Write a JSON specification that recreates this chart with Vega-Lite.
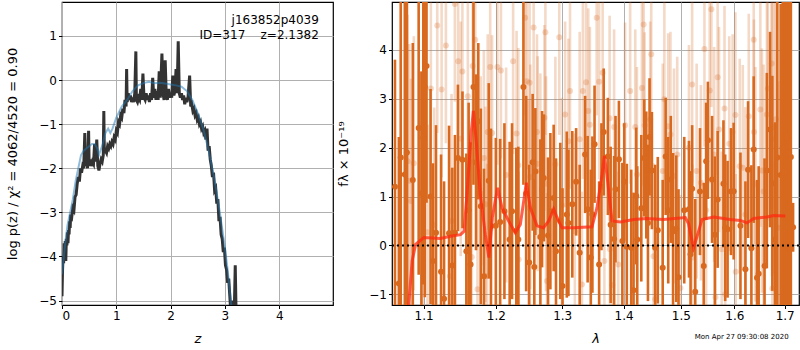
{
"$schema": "https://vega.github.io/schema/vega-lite/v6.json",
"padding": {"left": 6, "top": 1, "right": 1, "bottom": 0},
"config": {
  "font": "DejaVu Sans",
  "view": {"stroke": "black", "strokeWidth": 1.2},
  "axis": {"grid": true, "gridColor": "#b0b0b0", "gridWidth": 1, "domain": false, "tickColor": "black", "tickSize": 3.5, "labelFontSize": 12, "labelColor": "black", "labelPadding": 2, "titleFontSize": 13, "titleFontWeight": "normal", "titleColor": "black"},
  "axisX": {"titlePadding": 11}
},
"title": {"text": "Mon Apr 27 09:30:08 2020", "orient": "bottom", "anchor": "end", "fontSize": 7, "fontWeight": "normal", "offset": -13, "dx": -12, "color": "black"},
"spacing": 3,
"datasets": {
"pz": [
{"z":0.00,"lp":-4.9},{"z":0.01,"lp":-4.3},{"z":0.02,"lp":-4.0},{"z":0.03,"lp":-4.15},{"z":0.04,"lp":-3.7},{"z":0.05,"lp":-3.95},{"z":0.06,"lp":-3.65},{"z":0.07,"lp":-4.1},{"z":0.08,"lp":-3.6},{"z":0.09,"lp":-3.75},{"z":0.10,"lp":-3.45},{"z":0.11,"lp":-3.7},{"z":0.12,"lp":-3.4},{"z":0.13,"lp":-3.5},{"z":0.14,"lp":-3.2},{"z":0.15,"lp":-3.35},{"z":0.16,"lp":-3.05},{"z":0.18,"lp":-3.1},{"z":0.20,"lp":-2.9},{"z":0.22,"lp":-2.95},{"z":0.24,"lp":-2.65},{"z":0.26,"lp":-2.6},{"z":0.28,"lp":-2.35},{"z":0.30,"lp":-2.2},{"z":0.32,"lp":-2.3},{"z":0.34,"lp":-2.0},{"z":0.36,"lp":-2.1},{"z":0.38,"lp":-1.95},{"z":0.40,"lp":-2.0},{"z":0.42,"lp":-1.2},{"z":0.43,"lp":-1.95},{"z":0.45,"lp":-1.85},{"z":0.47,"lp":-2.0},{"z":0.49,"lp":-1.15},{"z":0.50,"lp":-1.95},{"z":0.52,"lp":-1.8},{"z":0.54,"lp":-1.95},{"z":0.56,"lp":-1.85},{"z":0.58,"lp":-1.9},{"z":0.60,"lp":-1.45},{"z":0.62,"lp":-1.85},{"z":0.64,"lp":-1.35},{"z":0.66,"lp":-1.95},{"z":0.68,"lp":-2.05},{"z":0.70,"lp":-1.9},{"z":0.72,"lp":-1.8},{"z":0.74,"lp":-1.85},{"z":0.76,"lp":-1.7},{"z":0.77,"lp":-0.7},{"z":0.78,"lp":-1.65},{"z":0.80,"lp":-1.6},{"z":0.82,"lp":-1.65},{"z":0.84,"lp":-1.5},{"z":0.86,"lp":-1.55},{"z":0.88,"lp":-1.45},{"z":0.90,"lp":-1.5},{"z":0.92,"lp":-1.4},{"z":0.94,"lp":-1.45},{"z":0.96,"lp":-1.3},{"z":0.98,"lp":-1.35},{"z":1.00,"lp":-1.15},{"z":1.02,"lp":-1.2},{"z":1.04,"lp":-0.95},{"z":1.06,"lp":-1.0},{"z":1.08,"lp":-0.8},{"z":1.10,"lp":-0.85},{"z":1.12,"lp":-0.65},{"z":1.14,"lp":-0.75},{"z":1.16,"lp":-0.45},{"z":1.18,"lp":-0.6},{"z":1.19,"lp":0.25},{"z":1.20,"lp":-0.5},{"z":1.22,"lp":-0.3},{"z":1.24,"lp":-0.45},{"z":1.26,"lp":-0.35},{"z":1.28,"lp":-0.5},{"z":1.30,"lp":-0.4},{"z":1.32,"lp":-0.5},{"z":1.34,"lp":-0.3},{"z":1.36,"lp":0.65},{"z":1.37,"lp":-0.45},{"z":1.39,"lp":-0.5},{"z":1.41,"lp":-0.4},{"z":1.43,"lp":-0.45},{"z":1.45,"lp":-0.2},{"z":1.47,"lp":-0.45},{"z":1.49,"lp":0.15},{"z":1.51,"lp":-0.4},{"z":1.53,"lp":-0.45},{"z":1.55,"lp":-0.3},{"z":1.57,"lp":-0.45},{"z":1.59,"lp":-0.35},{"z":1.61,"lp":-0.5},{"z":1.63,"lp":-0.3},{"z":1.65,"lp":-0.45},{"z":1.67,"lp":0.05},{"z":1.69,"lp":-0.4},{"z":1.71,"lp":-0.2},{"z":1.73,"lp":-0.45},{"z":1.75,"lp":-0.25},{"z":1.77,"lp":-0.45},{"z":1.79,"lp":0.2},{"z":1.81,"lp":-0.4},{"z":1.84,"lp":0.6},{"z":1.86,"lp":-0.3},{"z":1.88,"lp":-0.45},{"z":1.90,"lp":0.45},{"z":1.92,"lp":-0.35},{"z":1.94,"lp":-0.45},{"z":1.96,"lp":-0.2},{"z":1.98,"lp":-0.4},{"z":2.00,"lp":-0.3},{"z":2.02,"lp":-0.4},{"z":2.04,"lp":0.1},{"z":2.06,"lp":-0.35},{"z":2.08,"lp":-0.25},{"z":2.10,"lp":0.25},{"z":2.12,"lp":-0.3},{"z":2.14,"lp":0.88},{"z":2.16,"lp":-0.3},{"z":2.18,"lp":-0.4},{"z":2.20,"lp":-0.3},{"z":2.22,"lp":-0.45},{"z":2.24,"lp":-0.35},{"z":2.26,"lp":-0.55},{"z":2.28,"lp":-0.4},{"z":2.30,"lp":-0.5},{"z":2.32,"lp":-0.4},{"z":2.35,"lp":0.1},{"z":2.37,"lp":-0.6},{"z":2.39,"lp":-0.55},{"z":2.41,"lp":-0.7},{"z":2.43,"lp":-0.65},{"z":2.45,"lp":-0.8},{"z":2.47,"lp":-0.75},{"z":2.49,"lp":-0.9},{"z":2.51,"lp":-0.85},{"z":2.53,"lp":-1.0},{"z":2.55,"lp":-0.95},{"z":2.57,"lp":-1.1},{"z":2.59,"lp":-1.05},{"z":2.61,"lp":-1.2},{"z":2.63,"lp":-1.15},{"z":2.65,"lp":-1.35},{"z":2.67,"lp":-1.1},{"z":2.69,"lp":-1.6},{"z":2.71,"lp":-1.5},{"z":2.73,"lp":-1.8},{"z":2.75,"lp":-1.95},{"z":2.77,"lp":-2.2},{"z":2.79,"lp":-2.1},{"z":2.81,"lp":-2.5},{"z":2.83,"lp":-2.45},{"z":2.85,"lp":-2.8},{"z":2.87,"lp":-2.7},{"z":2.89,"lp":-3.2},{"z":2.91,"lp":-3.1},{"z":2.93,"lp":-3.5},{"z":2.95,"lp":-3.6},{"z":2.97,"lp":-3.9},{"z":2.99,"lp":-3.8},{"z":3.01,"lp":-4.2},{"z":3.03,"lp":-4.3},{"z":3.05,"lp":-4.6},{"z":3.07,"lp":-4.5},{"z":3.09,"lp":-4.9},{"z":3.11,"lp":-5.3},{"z":3.13,"lp":-5.0},{"z":3.15,"lp":-5.6},{"z":3.17,"lp":-5.4},{"z":3.19,"lp":-4.2},{"z":3.21,"lp":-5.6},{"z":3.23,"lp":-6.0}
],
"pzs": [
{"z":0.00,"lp":-4.4},{"z":0.05,"lp":-3.8},{"z":0.10,"lp":-3.3},{"z":0.15,"lp":-3.0},{"z":0.20,"lp":-2.7},{"z":0.25,"lp":-2.3},{"z":0.30,"lp":-2.0},{"z":0.35,"lp":-1.7},{"z":0.40,"lp":-1.6},{"z":0.45,"lp":-1.55},{"z":0.50,"lp":-1.5},{"z":0.55,"lp":-1.45},{"z":0.60,"lp":-1.45},{"z":0.65,"lp":-1.55},{"z":0.68,"lp":-1.7},{"z":0.75,"lp":-1.45},{"z":0.80,"lp":-1.2},{"z":0.85,"lp":-1.1},{"z":0.89,"lp":-1.2},{"z":0.93,"lp":-1.1},{"z":1.00,"lp":-0.85},{"z":1.10,"lp":-0.6},{"z":1.20,"lp":-0.45},{"z":1.30,"lp":-0.25},{"z":1.40,"lp":-0.12},{"z":1.50,"lp":-0.07},{"z":1.60,"lp":-0.04},{"z":1.70,"lp":-0.07},{"z":1.80,"lp":-0.06},{"z":1.90,"lp":-0.08},{"z":2.00,"lp":-0.1},{"z":2.10,"lp":-0.12},{"z":2.20,"lp":-0.15},{"z":2.30,"lp":-0.25},{"z":2.40,"lp":-0.45},{"z":2.50,"lp":-0.75},{"z":2.60,"lp":-1.1},{"z":2.70,"lp":-1.6},{"z":2.80,"lp":-2.2},{"z":2.90,"lp":-2.95},{"z":3.00,"lp":-3.8},{"z":3.05,"lp":-4.3},{"z":3.10,"lp":-4.9},{"z":3.15,"lp":-5.5}
],
"dark": [
{"l":1.0626,"f":1.2,"e":2.6},{"l":1.0676,"f":-0.78,"e":3.0},{"l":1.0700,"f":1.8,"e":4.0},{"l":1.0753,"f":1.45,"e":3.6},{"l":1.0780,"f":1.9,"e":3.8},{"l":1.0857,"f":1.34,"e":2.8},{"l":1.0934,"f":2.4,"e":3.0},{"l":1.0970,"f":1.06,"e":2.5},{"l":1.0995,"f":2.2,"e":3.0},{"l":1.1015,"f":3.24,"e":4.3},{"l":1.1038,"f":3.67,"e":2.8},{"l":1.1092,"f":1.0,"e":2.2},{"l":1.1124,"f":-0.32,"e":2.0},{"l":1.1165,"f":0.26,"e":2.2},{"l":1.1233,"f":-0.54,"e":2.4},{"l":1.1274,"f":-1.09,"e":2.4},{"l":1.1342,"f":0.25,"e":2.2},{"l":1.1387,"f":-0.41,"e":2.0},{"l":1.1423,"f":0.26,"e":2.0},{"l":1.1464,"f":1.79,"e":1.5},{"l":1.1527,"f":1.75,"e":1.4},{"l":1.1581,"f":-0.12,"e":2.0},{"l":1.1613,"f":0.72,"e":2.2},{"l":1.1640,"f":-0.39,"e":2.5},{"l":1.1681,"f":3.24,"e":2.0},{"l":1.1717,"f":1.70,"e":1.8},{"l":1.1749,"f":2.54,"e":1.6},{"l":1.1785,"f":0.80,"e":2.0},{"l":1.1830,"f":-0.63,"e":2.2},{"l":1.1898,"f":1.32,"e":2.0},{"l":1.1930,"f":0.39,"e":2.0},
{"l":1.2000,"f":0.4,"e":1.8},{"l":1.2063,"f":0.48,"e":1.7},{"l":1.2125,"f":0.70,"e":1.8},{"l":1.2202,"f":0.12,"e":2.0},{"l":1.2237,"f":0.70,"e":1.8},{"l":1.2300,"f":0.3,"e":1.7},{"l":1.2330,"f":0.12,"e":1.9},{"l":1.2406,"f":3.24,"e":2.0},{"l":1.2447,"f":1.06,"e":2.0},{"l":1.2493,"f":-0.35,"e":2.0},{"l":1.2545,"f":1.70,"e":1.4},{"l":1.2570,"f":-0.44,"e":1.8},{"l":1.2586,"f":1.51,"e":1.3},{"l":1.2662,"f":0.17,"e":2.0},{"l":1.2688,"f":1.15,"e":1.6},{"l":1.2714,"f":1.38,"e":1.3},{"l":1.2780,"f":0.2,"e":1.6},{"l":1.2816,"f":0.70,"e":1.6},{"l":1.2867,"f":0.97,"e":1.5},{"l":1.2903,"f":-0.12,"e":1.9},{"l":1.2970,"f":0.5,"e":1.6},{"l":1.3005,"f":-0.83,"e":2.0},{"l":1.3072,"f":0.63,"e":1.7},{"l":1.3098,"f":0.46,"e":1.5},{"l":1.3159,"f":0.84,"e":1.5},{"l":1.3220,"f":1.3,"e":1.1},{"l":1.3277,"f":-0.15,"e":1.8},{"l":1.3364,"f":1.86,"e":1.2},{"l":1.3405,"f":0.74,"e":1.5},{"l":1.3456,"f":-0.25,"e":1.8},{"l":1.3482,"f":0.63,"e":1.6},{"l":1.3517,"f":2.07,"e":1.2},
{"l":1.3592,"f":-0.39,"e":1.7},{"l":1.3630,"f":1.2,"e":1.3},{"l":1.3667,"f":2.32,"e":1.3},{"l":1.3736,"f":1.82,"e":1.2},{"l":1.3782,"f":0.42,"e":1.6},{"l":1.3840,"f":0.13,"e":1.7},{"l":1.3863,"f":1.15,"e":1.5},{"l":1.3920,"f":1.76,"e":1.2},{"l":1.3978,"f":0.09,"e":1.6},{"l":1.4010,"f":1.3,"e":1.2},{"l":1.4053,"f":-0.03,"e":1.7},{"l":1.4128,"f":-0.05,"e":1.6},{"l":1.4168,"f":-0.92,"e":2.0},{"l":1.4214,"f":1.01,"e":1.4},{"l":1.4231,"f":0.12,"e":1.5},{"l":1.4301,"f":0.76,"e":1.5},{"l":1.4352,"f":1.79,"e":1.2},{"l":1.4387,"f":1.44,"e":1.3},{"l":1.4416,"f":0.46,"e":1.6},{"l":1.4444,"f":2.22,"e":1.2},{"l":1.4485,"f":1.53,"e":1.2},{"l":1.4542,"f":-0.05,"e":1.7},{"l":1.4588,"f":0.31,"e":1.5},{"l":1.4675,"f":-0.46,"e":1.8},{"l":1.4727,"f":1.82,"e":1.2},{"l":1.4773,"f":0.72,"e":1.5},{"l":1.4819,"f":1.35,"e":1.3},{"l":1.4859,"f":0.29,"e":1.6},{"l":1.4917,"f":0.34,"e":1.5},{"l":1.4957,"f":-0.65,"e":1.8},{"l":1.5061,"f":0.72,"e":1.5},{"l":1.5147,"f":0.74,"e":1.4},{"l":1.5176,"f":-0.18,"e":1.7},{"l":1.5205,"f":1.16,"e":1.3},
{"l":1.5262,"f":-0.95,"e":1.9},{"l":1.5350,"f":1.1,"e":1.3},{"l":1.5419,"f":-0.42,"e":1.7},{"l":1.5464,"f":1.72,"e":1.2},{"l":1.5497,"f":2.15,"e":1.2},{"l":1.5575,"f":1.35,"e":1.3},{"l":1.5627,"f":0.22,"e":1.6},{"l":1.5680,"f":0.94,"e":1.4},{"l":1.5790,"f":1.26,"e":1.3},{"l":1.5823,"f":0.36,"e":1.5},{"l":1.5869,"f":0.33,"e":1.4},{"l":1.5934,"f":1.10,"e":1.3},{"l":1.5986,"f":1.11,"e":1.4},{"l":1.6117,"f":0.40,"e":1.5},{"l":1.6214,"f":-0.49,"e":1.8},{"l":1.6266,"f":1.55,"e":1.4},{"l":1.6331,"f":-0.06,"e":1.7},{"l":1.6377,"f":1.96,"e":1.5},{"l":1.6442,"f":-0.66,"e":2.0},{"l":1.6475,"f":-0.58,"e":2.2},{"l":1.6592,"f":-0.42,"e":2.2},{"l":1.6638,"f":1.53,"e":2.0},{"l":1.6703,"f":2.37,"e":2.0},{"l":1.6749,"f":1.27,"e":2.2},{"l":1.6801,"f":0.12,"e":2.4},{"l":1.6850,"f":1.8,"e":3.5},{"l":1.6918,"f":1.44,"e":3.5},{"l":1.6960,"f":2.0,"e":4.0},{"l":1.7000,"f":1.5,"e":3.8},{"l":1.7050,"f":2.2,"e":4.5},{"l":1.7090,"f":1.9,"e":4.0},{"l":1.7127,"f":1.81,"e":3.5},{"l":1.7173,"f":0.37,"e":0.5}
],
"light": [
{"l":1.0789,"f":1.72,"e":3.0},{"l":1.0811,"f":1.32,"e":2.8},{"l":1.0834,"f":0.91,"e":2.5},{"l":1.0870,"f":1.68,"e":2.6},{"l":1.0992,"f":-0.65,"e":2.4},{"l":1.1051,"f":0.27,"e":2.2},{"l":1.1096,"f":3.21,"e":2.0},{"l":1.1141,"f":0.42,"e":2.4},{"l":1.1182,"f":4.5,"e":2.2},{"l":1.1241,"f":3.19,"e":1.8},{"l":1.1299,"f":4.09,"e":2.0},{"l":1.1354,"f":-0.63,"e":2.2},{"l":1.1376,"f":0.50,"e":2.6},{"l":1.1422,"f":4.94,"e":2.0},{"l":1.1467,"f":3.77,"e":2.1},{"l":1.1503,"f":2.18,"e":2.4},{"l":1.1526,"f":3.56,"e":1.8},{"l":1.1602,"f":3.05,"e":2.2},{"l":1.1657,"f":-0.24,"e":2.0},{"l":1.1670,"f":3.67,"e":2.0},{"l":1.1706,"f":4.21,"e":1.9},{"l":1.1738,"f":-0.9,"e":2.2},{"l":1.1783,"f":1.06,"e":2.4},{"l":1.1828,"f":1.79,"e":2.2},{"l":1.1851,"f":0.84,"e":2.0},{"l":1.1874,"f":-0.63,"e":2.3},{"l":1.1883,"f":2.32,"e":2.0},{"l":1.1919,"f":3.65,"e":2.2},
{"l":1.1946,"f":2.30,"e":2.0},{"l":1.2022,"f":3.65,"e":2.0},{"l":1.2074,"f":3.58,"e":1.8},{"l":1.2150,"f":1.44,"e":2.2},{"l":1.2253,"f":3.77,"e":1.9},{"l":1.2304,"f":2.29,"e":2.1},{"l":1.2330,"f":1.64,"e":2.4},{"l":1.2335,"f":-0.29,"e":1.8},{"l":1.2432,"f":4.66,"e":2.0},{"l":1.2458,"f":3.36,"e":1.8},{"l":1.2483,"f":0.77,"e":2.2},{"l":1.2499,"f":3.33,"e":2.0},{"l":1.2509,"f":1.40,"e":2.3},{"l":1.2560,"f":4.46,"e":2.0},{"l":1.2611,"f":2.32,"e":2.0},{"l":1.2621,"f":1.67,"e":2.2},{"l":1.2662,"f":1.52,"e":2.0},{"l":1.2724,"f":2.61,"e":1.9},{"l":1.2739,"f":4.36,"e":2.1},{"l":1.2749,"f":1.26,"e":2.2},{"l":1.2765,"f":-0.73,"e":1.8},{"l":1.2893,"f":1.66,"e":2.2},{"l":1.2954,"f":4.26,"e":2.0},{"l":1.2995,"f":0.82,"e":2.2},{"l":1.3046,"f":2.68,"e":1.9},{"l":1.3098,"f":2.13,"e":2.1},{"l":1.3123,"f":3.16,"e":2.0},{"l":1.3200,"f":0.29,"e":2.0},{"l":1.3277,"f":2.17,"e":2.2},{"l":1.3313,"f":-0.80,"e":1.9},{"l":1.3328,"f":3.16,"e":1.8},{"l":1.3379,"f":3.34,"e":2.0},{"l":1.3415,"f":2.75,"e":2.1},{"l":1.3441,"f":2.47,"e":2.0},
{"l":1.3552,"f":4.66,"e":2.0},{"l":1.3592,"f":3.35,"e":2.0},{"l":1.3650,"f":3.53,"e":1.9},{"l":1.3678,"f":-0.32,"e":1.9},{"l":1.3765,"f":2.60,"e":2.1},{"l":1.3770,"f":-0.08,"e":1.8},{"l":1.3811,"f":-0.81,"e":2.0},{"l":1.3840,"f":2.42,"e":2.0},{"l":1.3909,"f":-0.39,"e":1.9},{"l":1.4024,"f":2.46,"e":2.1},{"l":1.4110,"f":3.16,"e":1.9},{"l":1.4197,"f":2.42,"e":2.0},{"l":1.4226,"f":1.45,"e":2.2},{"l":1.4312,"f":3.22,"e":2.0},{"l":1.4341,"f":4.52,"e":2.0},{"l":1.4358,"f":2.46,"e":1.9},{"l":1.4456,"f":2.58,"e":2.0},{"l":1.4473,"f":3.91,"e":2.1},{"l":1.4514,"f":-0.22,"e":1.9},{"l":1.4542,"f":-1.10,"e":2.0},{"l":1.4675,"f":1.52,"e":2.2},{"l":1.4704,"f":2.99,"e":2.0},{"l":1.4773,"f":2.44,"e":1.9},{"l":1.4813,"f":2.27,"e":2.1},{"l":1.4876,"f":1.42,"e":2.2},{"l":1.4934,"f":1.86,"e":2.0},{"l":1.4992,"f":-0.87,"e":1.9},{"l":1.5147,"f":2.00,"e":2.1},{"l":1.5205,"f":3.29,"e":2.0},{"l":1.5210,"f":-0.25,"e":1.9},
{"l":1.5288,"f":1.52,"e":2.2},{"l":1.5367,"f":1.28,"e":2.0},{"l":1.5432,"f":4.02,"e":2.0},{"l":1.5464,"f":0.72,"e":2.1},{"l":1.5530,"f":3.17,"e":1.9},{"l":1.5562,"f":4.83,"e":2.0},{"l":1.5614,"f":1.86,"e":2.2},{"l":1.5640,"f":-1.06,"e":2.0},{"l":1.5680,"f":3.44,"e":2.0},{"l":1.5706,"f":2.37,"e":2.1},{"l":1.5758,"f":-0.08,"e":2.0},{"l":1.5810,"f":2.80,"e":2.1},{"l":1.5823,"f":-1.0,"e":2.0},{"l":1.5901,"f":2.08,"e":2.2},{"l":1.5966,"f":2.32,"e":2.0},{"l":1.6019,"f":2.67,"e":2.1},{"l":1.6025,"f":-0.54,"e":2.0},{"l":1.6103,"f":1.62,"e":2.2},{"l":1.6162,"f":1.59,"e":2.1},{"l":1.6214,"f":0.63,"e":2.2},{"l":1.6279,"f":2.64,"e":2.1},{"l":1.6377,"f":4.21,"e":2.2},{"l":1.6382,"f":2.32,"e":2.3},{"l":1.6410,"f":1.25,"e":2.4},{"l":1.6508,"f":2.78,"e":2.4},{"l":1.6540,"f":1.53,"e":2.5},{"l":1.6573,"f":1.10,"e":2.6},{"l":1.6638,"f":2.68,"e":2.6},{"l":1.6658,"f":3.21,"e":2.7},{"l":1.6736,"f":3.72,"e":2.8},{"l":1.6742,"f":2.17,"e":2.8},{"l":1.6749,"f":-0.88,"e":2.6},{"l":1.6788,"f":2.42,"e":3.0},{"l":1.6821,"f":2.58,"e":3.0},{"l":1.6866,"f":0.36,"e":3.0},{"l":1.6983,"f":2.10,"e":3.2}
],
"model": [
{"l":1.0803,"f":-1.22},{"l":1.0848,"f":-0.32},{"l":1.0894,"f":0.02},{"l":1.0984,"f":0.14},{"l":1.1000,"f":0.16},{"l":1.1223,"f":0.14},{"l":1.1380,"f":0.19},{"l":1.1500,"f":0.22},{"l":1.1550,"f":0.29},{"l":1.1600,"f":1.25},{"l":1.1646,"f":2.27},{"l":1.1680,"f":2.75},{"l":1.1720,"f":2.13},{"l":1.1778,"f":1.04},{"l":1.1850,"f":0.22},{"l":1.1900,"f":-0.25},{"l":1.1950,"f":0.57},{"l":1.2026,"f":1.18},{"l":1.2090,"f":0.77},{"l":1.2187,"f":0.50},{"l":1.2285,"f":0.26},{"l":1.2360,"f":0.43},{"l":1.2450,"f":1.28},{"l":1.2510,"f":0.77},{"l":1.2610,"f":0.40},{"l":1.2710,"f":0.36},{"l":1.2790,"f":0.50},{"l":1.2867,"f":0.74},{"l":1.2920,"f":0.57},{"l":1.2997,"f":0.36},{"l":1.3180,"f":0.36},{"l":1.3476,"f":0.38},{"l":1.3557,"f":0.77},{"l":1.3640,"f":1.45},{"l":1.3678,"f":1.83},{"l":1.3720,"f":1.45},{"l":1.3805,"f":0.50},{"l":1.3945,"f":0.48},{"l":1.4170,"f":0.53},{"l":1.4400,"f":0.55},{"l":1.4690,"f":0.53},{"l":1.5080,"f":0.57},{"l":1.5140,"f":0.44},{"l":1.5230,"f":-0.05},{"l":1.5290,"f":0.16},{"l":1.5386,"f":0.53},{"l":1.5605,"f":0.58},{"l":1.5920,"f":0.53},{"l":1.6114,"f":0.51},{"l":1.6245,"f":0.46},{"l":1.6375,"f":0.55},{"l":1.6640,"f":0.58},{"l":1.6776,"f":0.61},{"l":1.7013,"f":0.60}
]
},
"hconcat": [
{
 "width": 271, "height": 303,
 "layer": [
  {"data": {"name": "pz"}, "mark": {"type": "line", "color": "#333333", "strokeWidth": 3, "clip": true},
   "encoding": {
    "x": {"field": "z", "type": "quantitative", "scale": {"domain": [0, 4.99], "nice": false}, "axis": {"values": [0, 1, 2, 3, 4], "title": "z", "titleFontStyle": "italic"}},
    "y": {"field": "lp", "type": "quantitative", "scale": {"domain": [-5.1, 1.77], "nice": false, "zero": false}, "axis": {"values": [-5, -4, -3, -2, -1, 0, 1], "title": "log p(z) / χ² = 4062/4520 = 0.90", "titlePadding": 19}}
   }},
  {"data": {"name": "pzs"}, "mark": {"type": "line", "color": "#1f77b4", "opacity": 0.5, "strokeWidth": 2, "clip": true},
   "encoding": {"x": {"field": "z", "type": "quantitative"}, "y": {"field": "lp", "type": "quantitative"}}},
  {"data": {"values": [{}]}, "mark": {"type": "text", "align": "right", "baseline": "alphabetic", "fontSize": 12, "color": "black"},
   "encoding": {"x": {"datum": 4.73}, "y": {"datum": 1.27}, "text": {"value": "j163852p4039"}}},
  {"data": {"values": [{}]}, "mark": {"type": "text", "align": "right", "baseline": "alphabetic", "fontSize": 12, "color": "black"},
   "encoding": {"x": {"datum": 4.73}, "y": {"datum": 0.93}, "text": {"value": "ID=317\u00a0\u00a0\u00a0\u00a0z=2.1382"}}}
 ]
},
{
 "width": 407, "height": 303,
 "layer": [
  {"data": {"name": "light"}, "mark": {"type": "errorbar", "color": "#d8691e", "opacity": 0.25, "thickness": 2.6, "clip": true},
   "encoding": {
    "x": {"field": "l", "type": "quantitative", "scale": {"type": "log", "domain": [1.0588, 1.7296], "nice": false}, "axis": {"values": [1.1, 1.2, 1.3, 1.4, 1.5, 1.6, 1.7], "format": ".1f", "title": "λ", "titleFontStyle": "italic"}},
    "y": {"field": "f", "type": "quantitative", "title": "fλ × 10⁻¹⁹", "scale": {"domain": [-1.22, 4.98], "nice": false, "zero": false}, "axis": {"values": [-1, 0, 1, 2, 3, 4], "title": "fλ × 10⁻¹⁹", "titlePadding": 18}},
    "yError": {"field": "e"}
   }},
  {"data": {"name": "light"}, "mark": {"type": "circle", "color": "#d8691e", "opacity": 0.25, "size": 36, "clip": true},
   "encoding": {"x": {"field": "l", "type": "quantitative", "title": "λ"}, "y": {"field": "f", "type": "quantitative", "title": "fλ × 10⁻¹⁹"}}},
  {"data": {"name": "dark"}, "mark": {"type": "errorbar", "color": "#d8691e", "thickness": 2.6, "clip": true},
   "encoding": {"x": {"field": "l", "type": "quantitative", "title": "λ"}, "y": {"field": "f", "type": "quantitative", "title": "fλ × 10⁻¹⁹"}, "yError": {"field": "e"}}},
  {"data": {"name": "dark"}, "mark": {"type": "circle", "color": "#d8691e", "opacity": 1, "size": 36, "clip": true},
   "encoding": {"x": {"field": "l", "type": "quantitative", "title": "λ"}, "y": {"field": "f", "type": "quantitative", "title": "fλ × 10⁻¹⁹"}}},
  {"data": {"values": [{}]}, "mark": {"type": "rule", "color": "black", "strokeDash": [2, 3], "strokeWidth": 2},
   "encoding": {"y": {"datum": 0}}},
  {"data": {"name": "model"}, "mark": {"type": "line", "color": "#ff2a10", "opacity": 0.75, "strokeWidth": 3, "clip": true},
   "encoding": {"x": {"field": "l", "type": "quantitative", "title": "λ"}, "y": {"field": "f", "type": "quantitative", "title": "fλ × 10⁻¹⁹"}}}
 ]
}
]
}
